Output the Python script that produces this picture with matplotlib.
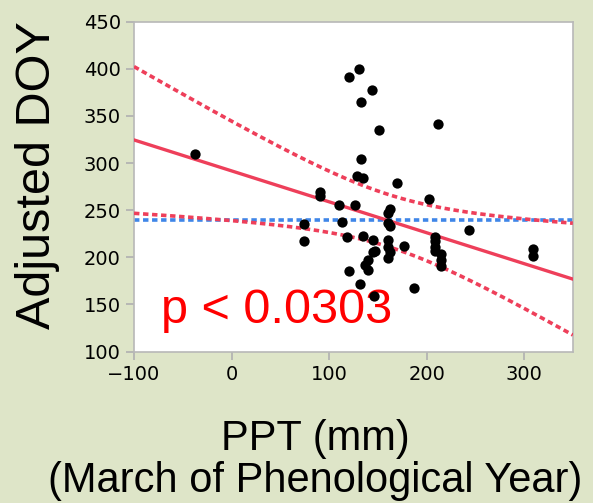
import numpy as np
import matplotlib
matplotlib.use("Agg")
from matplotlib import pyplot as plt

# datos (PPT marzo vs DOY ajustado)
ppt = [-37, 120, 131, 144, 133, 151, 212, 133, 129, 135, 170, 203, 91, 91,
       110, 127, 163, 160, 74, 74, 113, 118, 135, 145, 145, 147, 140, 137,
       140, 120, 132, 146, 160, 162, 160, 160, 162, 160, 177, 187, 209, 209,
       209, 209, 215, 215, 215, 244, 309, 309]
doy = [310, 391, 400, 378, 365, 335, 341, 304, 286, 284, 279, 262, 269, 265,
       255, 256, 251, 247, 235, 217, 237, 222, 223, 218, 206, 207, 197, 192,
       187, 185, 172, 159, 236, 233, 218, 211, 206, 199, 212, 167, 222, 217,
       211, 207, 203, 197, 191, 229, 209, 201]

# ajuste lineal y banda de confianza
intercepto = 291.7
pendiente = -0.328
x_centro = 161.5
semi_min = 27.7
k_banda = 0.278
media_doy = 240

rojo = "#EE3F5A"
azul = "#3F86E8"
fondo = "#DEE5C8"

fig = plt.figure(figsize=(5.93, 5.03), dpi=100, facecolor=fondo)
ax = fig.add_axes([0.226, 0.301, 0.740, 0.656])
ax.set_facecolor("white")

xs = np.linspace(-100, 350, 300)
yfit = intercepto + pendiente * xs
semi = np.sqrt(semi_min**2 + (k_banda * (xs - x_centro))**2)

ax.plot(xs, np.full_like(xs, media_doy), color=azul, lw=2.6, ls=(0, (1.5, 1)), zorder=2)
ax.plot(xs, yfit + semi, color=rojo, lw=2.6, ls=(0, (1.5, 1)), zorder=3)
ax.plot(xs, yfit - semi, color=rojo, lw=2.6, ls=(0, (1.5, 1)), zorder=3)
ax.plot(xs, yfit, color=rojo, lw=2.4, zorder=3)
ax.scatter(ppt, doy, s=55, color="black", zorder=4, linewidths=0)

ax.set_xlim(-100, 350)
ax.set_ylim(100, 450)
ax.set_xticks([-100, 0, 100, 200, 300])
ax.set_yticks(range(100, 451, 50))
for s in ax.spines.values():
    s.set_color("#B8B8B8")
    s.set_linewidth(1.2)
ax.tick_params(colors="#B0B0B0", labelcolor="black", labelsize=14, length=6, width=1.2)

ax.text(-72, 130.5, "p < 0.0303", color="red", fontsize=35, va="baseline",
        family="Liberation Sans")

fig.text(0.063, 0.652, "Adjusted DOY", rotation=90, ha="center", va="center",
         fontsize=35, family="Liberation Sans")
fig.text(0.531, 0.105, "PPT (mm)", ha="center", va="baseline",
         fontsize=30, family="Liberation Sans")
fig.text(0.531, 0.021, "(March of Phenological Year)", ha="center", va="baseline",
         fontsize=30, family="Liberation Sans")

fig.savefig("out.png", dpi=100, facecolor=fondo)
